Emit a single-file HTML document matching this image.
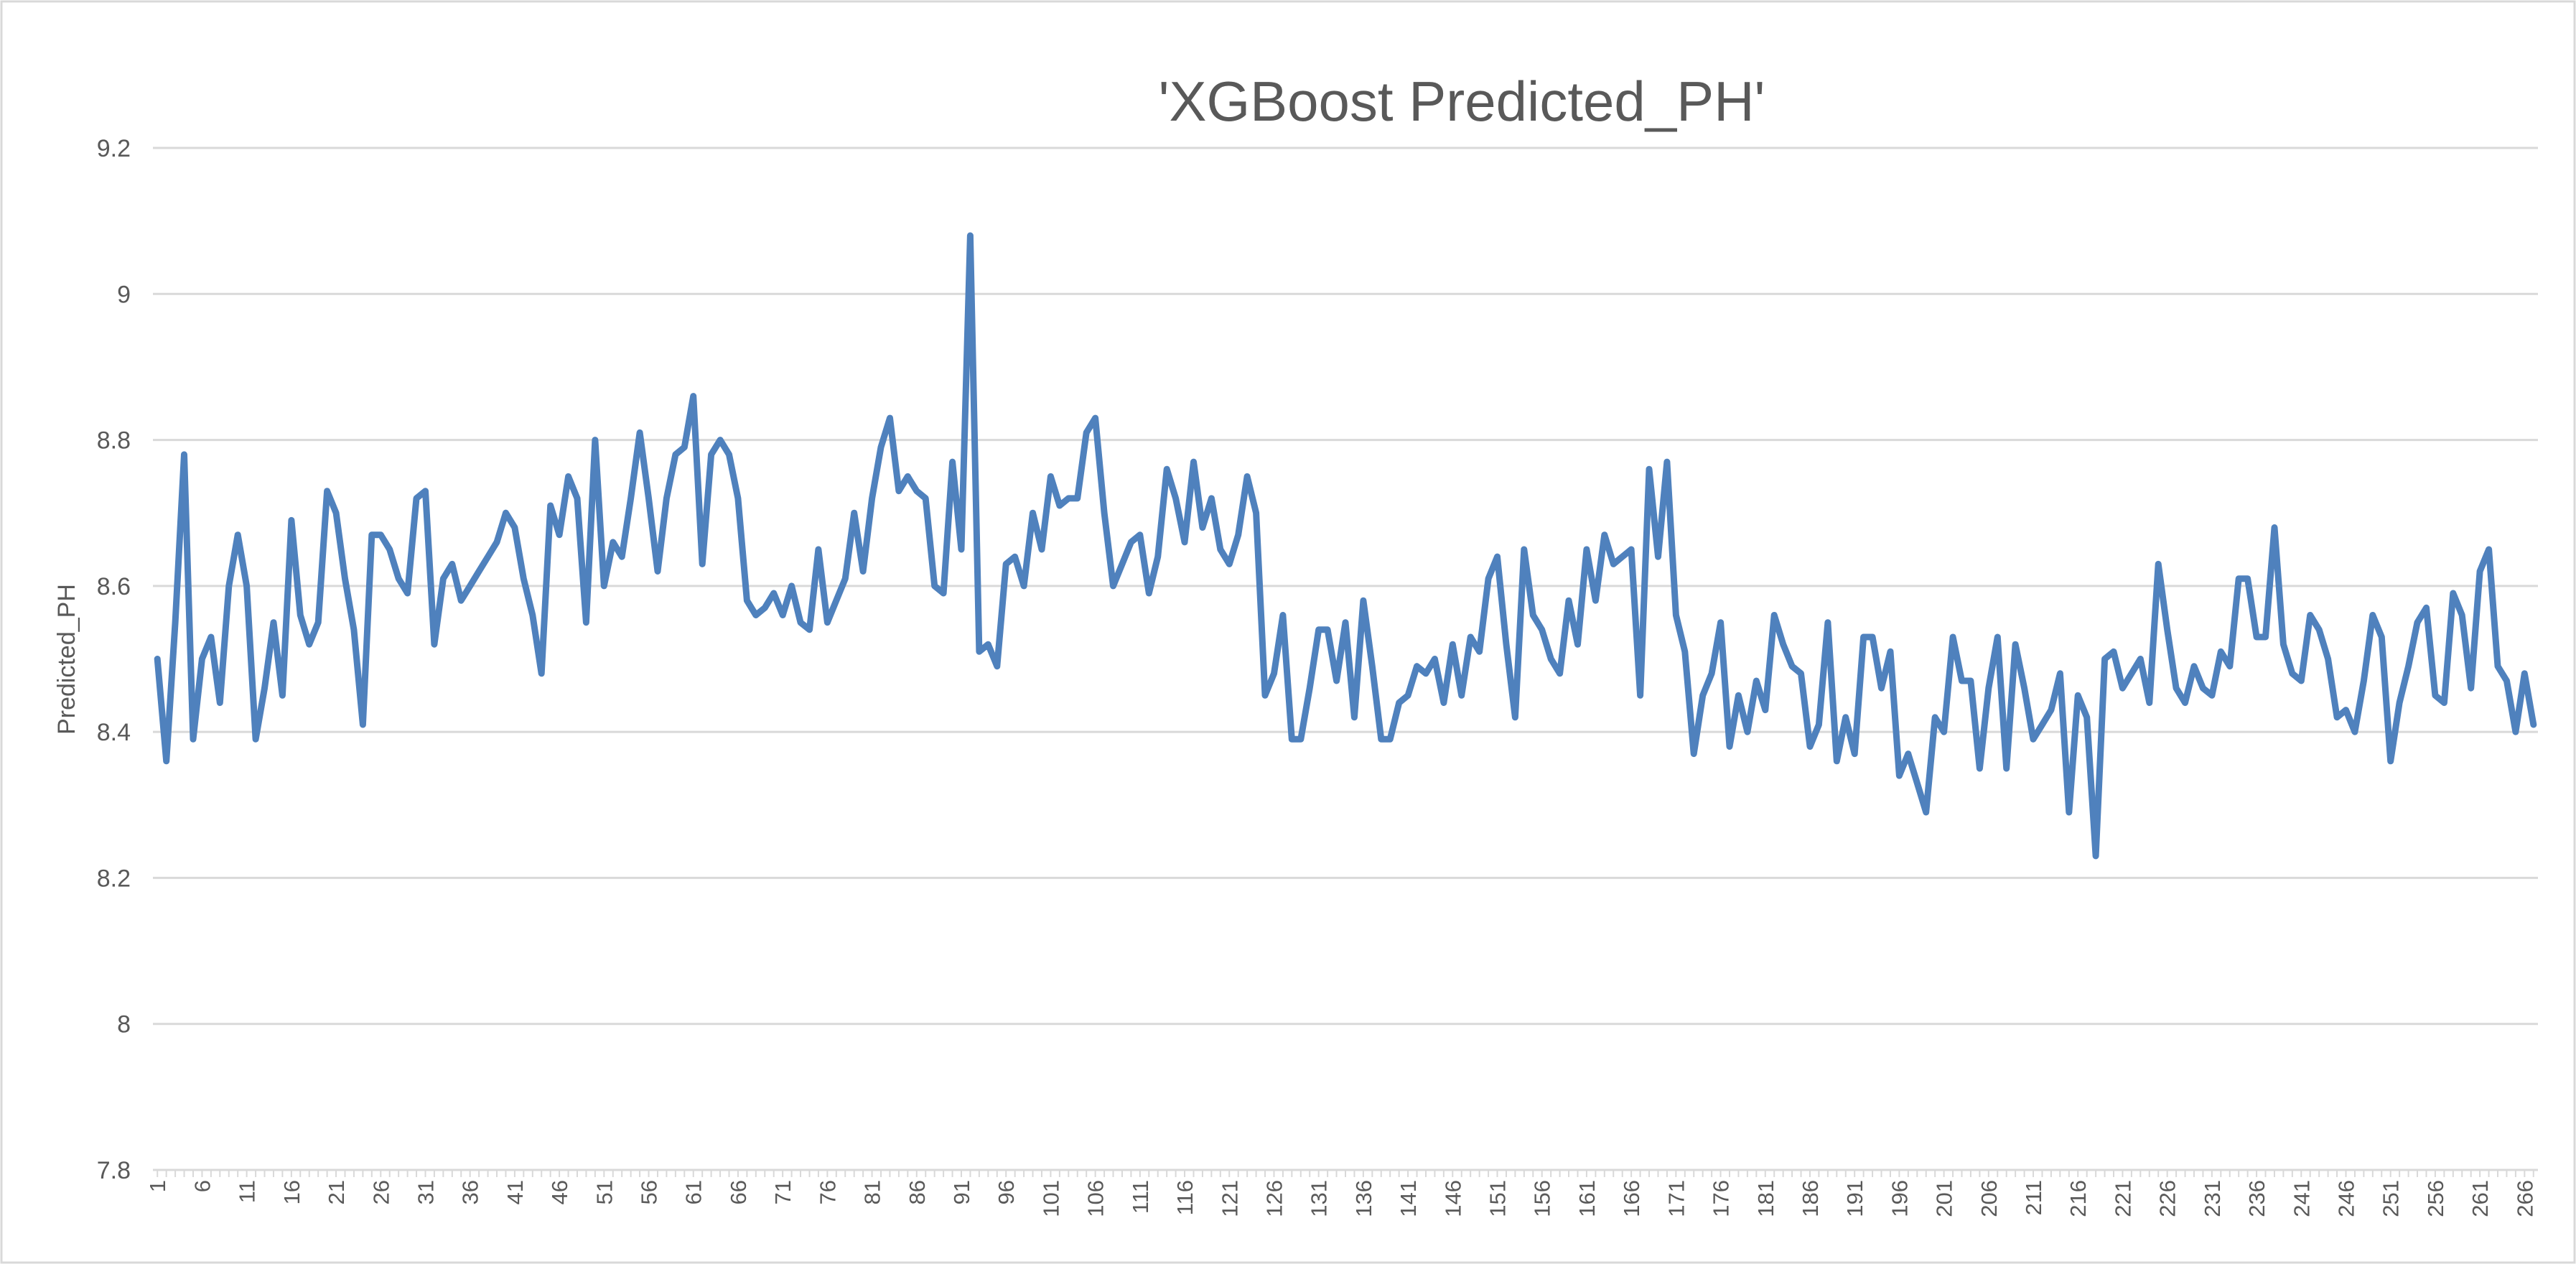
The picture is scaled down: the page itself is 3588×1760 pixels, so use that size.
<!DOCTYPE html>
<html><head><meta charset="utf-8"><style>
html,body{margin:0;padding:0;background:#fff;}
svg{display:block;font-family:"Liberation Sans",sans-serif;}
</style></head><body>
<svg id="chart" width="3588" height="1760" viewBox="0 0 3588 1760" xmlns="http://www.w3.org/2000/svg">
<rect x="2" y="2" width="3584" height="1756" fill="#fff" stroke="#d9d9d9" stroke-width="3"/>
<text x="2036" y="168" font-size="78" fill="#595959" text-anchor="middle">'XGBoost Predicted_PH'</text>
<text transform="translate(104,918) rotate(-90)" font-size="34" fill="#595959" text-anchor="middle">Predicted_PH</text>
<g id="grid"></g><g id="yt"></g><g id="xt"></g><g id="series"></g>
</svg>
<script>
const yTicks=[7.8,8,8.2,8.4,8.6,8.8,9,9.2];
const yTickLabels=["7.8","8","8.2","8.4","8.6","8.8","9","9.2"];
const predictedPH=[8.50,8.36,8.55,8.78,8.39,8.50,8.53,8.44,8.60,8.67,8.60,8.39,8.46,8.55,8.45,8.69,8.56,8.52,8.55,8.73,8.70,8.61,8.54,8.41,8.67,8.67,8.65,8.61,8.59,8.72,8.73,8.52,8.61,8.63,8.58,8.60,8.62,8.64,8.66,8.70,8.68,8.61,8.56,8.48,8.71,8.67,8.75,8.72,8.55,8.80,8.60,8.66,8.64,8.72,8.81,8.72,8.62,8.72,8.78,8.79,8.86,8.63,8.78,8.80,8.78,8.72,8.58,8.56,8.57,8.59,8.56,8.60,8.55,8.54,8.65,8.55,8.58,8.61,8.70,8.62,8.72,8.79,8.83,8.73,8.75,8.73,8.72,8.60,8.59,8.77,8.65,9.08,8.51,8.52,8.49,8.63,8.64,8.60,8.70,8.65,8.75,8.71,8.72,8.72,8.81,8.83,8.70,8.60,8.63,8.66,8.67,8.59,8.64,8.76,8.72,8.66,8.77,8.68,8.72,8.65,8.63,8.67,8.75,8.70,8.45,8.48,8.56,8.39,8.39,8.46,8.54,8.54,8.47,8.55,8.42,8.58,8.49,8.39,8.39,8.44,8.45,8.49,8.48,8.50,8.44,8.52,8.45,8.53,8.51,8.61,8.64,8.52,8.42,8.65,8.56,8.54,8.50,8.48,8.58,8.52,8.65,8.58,8.67,8.63,8.64,8.65,8.45,8.76,8.64,8.77,8.56,8.51,8.37,8.45,8.48,8.55,8.38,8.45,8.40,8.47,8.43,8.56,8.52,8.49,8.48,8.38,8.41,8.55,8.36,8.42,8.37,8.53,8.53,8.46,8.51,8.34,8.37,8.33,8.29,8.42,8.40,8.53,8.47,8.47,8.35,8.46,8.53,8.35,8.52,8.46,8.39,8.41,8.43,8.48,8.29,8.45,8.42,8.23,8.50,8.51,8.46,8.48,8.50,8.44,8.63,8.54,8.46,8.44,8.49,8.46,8.45,8.51,8.49,8.61,8.61,8.53,8.53,8.68,8.52,8.48,8.47,8.56,8.54,8.50,8.42,8.43,8.40,8.47,8.56,8.53,8.36,8.44,8.49,8.55,8.57,8.45,8.44,8.59,8.56,8.46,8.62,8.65,8.49,8.47,8.40,8.48,8.41];
const categories=predictedPH.map((_,i)=>i+1);

const NS="http://www.w3.org/2000/svg";
const L=213,R=3535,T=206,B=1629,ymin=7.8,ymax=9.2;
function yScale(v){return B-(v-ymin)/(ymax-ymin)*(B-T);}
function xScale(i){return L+(i+0.5)*(R-L)/categories.length;}
function mk(tag,attrs,parent){const e=document.createElementNS(NS,tag);for(const k in attrs)e.setAttribute(k,attrs[k]);parent.appendChild(e);return e;}
const grid=document.getElementById('grid'),yt=document.getElementById('yt'),xt=document.getElementById('xt'),series=document.getElementById('series');
yTicks.forEach((v,k)=>{
  const g=mk('line',{x1:L,x2:R,y1:yScale(v),y2:yScale(v),stroke:'#d9d9d9','stroke-width':3},grid);
  
  
  const t=mk('text',{x:182,y:yScale(v)+12,'font-size':34,fill:'#595959','text-anchor':'end'},yt);
  t.textContent=yTickLabels[k];
  
  
});
categories.forEach((c,i)=>{
  const tk=mk('line',{x1:xScale(i),x2:xScale(i),y1:B,y2:B+10,stroke:'#d9d9d9','stroke-width':2},xt);
  
  
  if(i%5===0){
    const x=xScale(i)+11,y=B+14;
    const t=mk('text',{x:x,y:y,'font-size':31,fill:'#595959','text-anchor':'end',transform:`rotate(-90 ${x} ${y})`},xt);
    t.textContent=String(c);
    
    
  }
});
const pts=predictedPH.map((v,i)=>xScale(i).toFixed(1)+','+yScale(v).toFixed(1)).join(' ');
const pl=mk('polyline',{points:pts,fill:'none',stroke:'#4f81bd','stroke-width':9,'stroke-linejoin':'round','stroke-linecap':'round'},series);


</script>
</body></html>
